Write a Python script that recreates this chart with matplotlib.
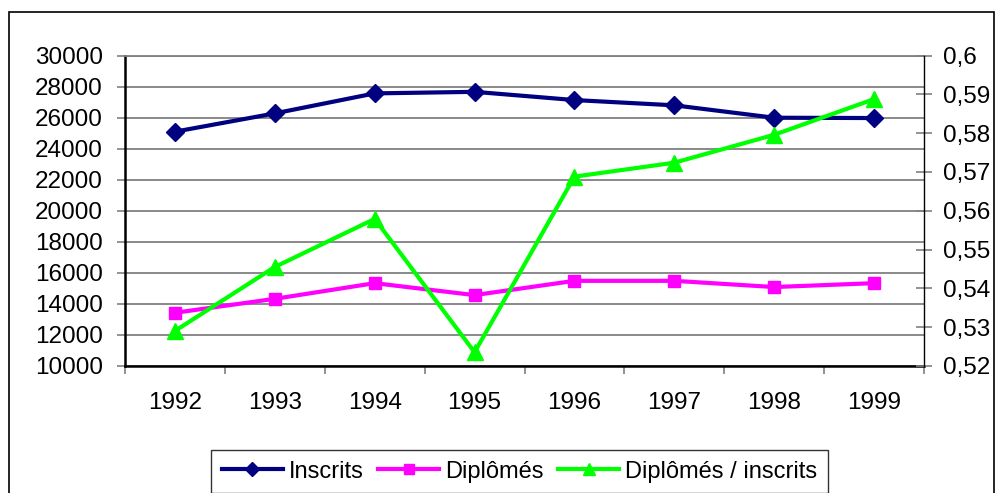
import matplotlib
matplotlib.use("Agg")
import matplotlib.pyplot as plt
from matplotlib.patches import Rectangle
from matplotlib.ticker import FixedLocator, FuncFormatter

plt.rcParams['font.family'] = ['Liberation Sans', 'DejaVu Sans']

years = ['1992', '1993', '1994', '1995', '1996', '1997', '1998', '1999']
inscrits = [25100, 26280, 27570, 27670, 27140, 26800, 26000, 25980]
diplomes = [13420, 14320, 15330, 14560, 15480, 15480, 15080, 15330]
ratio = [0.5290, 0.5455, 0.5579, 0.5235, 0.5688, 0.5724, 0.5796, 0.5888]

fig = plt.figure(figsize=(10, 4.93), dpi=100)
ax = fig.add_axes([0.125, 0.258, 0.799, 0.629])
ax2 = ax.twinx()

x = list(range(len(years)))
l1, = ax.plot(x, inscrits, color='#000080', lw=3, marker='D', ms=9, label='Inscrits', zorder=3)
l2, = ax.plot(x, diplomes, color='#FF00FF', lw=3, marker='s', ms=9, label='Diplômés', zorder=3)
l3, = ax2.plot(x, ratio, color='#00FF00', lw=3, marker='^', ms=11, label='Diplômés / inscrits', zorder=3)

ax.set_xlim(-0.5, 7.5)
ax.set_ylim(10000, 30000)
ax2.set_ylim(0.52, 0.60)
ax.set_yticks(range(10000, 30001, 2000))
ax2.set_yticks([0.52 + 0.01 * i for i in range(9)])
ax2.yaxis.set_major_formatter(FuncFormatter(lambda v, p: ('%.2f' % v).rstrip('0').replace('.', ',')))

ax.xaxis.set_major_locator(FixedLocator([i - 0.5 for i in range(9)]))
ax.xaxis.set_minor_locator(FixedLocator(x))
ax.set_xticklabels([], minor=False)
ax.set_xticklabels(years, minor=True)
fs = 17.5
ax.tick_params(axis='x', which='major', length=6, width=1.2, color='#808080', direction='out')
ax.tick_params(axis='x', which='minor', length=0, pad=19, labelsize=fs)
ax.tick_params(axis='y', length=6, width=1.2, color='#808080', direction='out', pad=10, labelsize=fs)
ax2.tick_params(axis='y', length=12, width=1.2, color='#808080', direction='inout', pad=8, labelsize=fs)

ax.grid(axis='y', color='#808080', lw=1.3)
ax.set_axisbelow(True)
for s in ['left', 'bottom']:
    ax.spines[s].set_color('black')
    ax.spines[s].set_linewidth(1.8)
ax.spines['top'].set_color('#808080')
ax.spines['top'].set_linewidth(1.3)
ax.spines['right'].set_visible(False)
ax2.spines['left'].set_visible(False)
ax2.spines['bottom'].set_visible(False)
ax2.spines['top'].set_visible(False)
ax2.spines['right'].set_color('black')
ax2.spines['right'].set_linewidth(1.0)

leg = fig.legend(handles=[l1, l2, l3], loc='upper center', bbox_to_anchor=(0.5195, 0.111),
                 ncol=3, fontsize=17, frameon=True, fancybox=False, edgecolor='black',
                 handlelength=2.6, handletextpad=0.25, columnspacing=0.6, borderpad=0.45,
                 markerscale=0.8)
leg.get_frame().set_linewidth(1.0)

fig.add_artist(Rectangle((0.0085, -0.02), 0.985, 0.996, transform=fig.transFigure,
                         fill=False, edgecolor='black', lw=1.2))

fig.savefig('out.png', dpi=100)
